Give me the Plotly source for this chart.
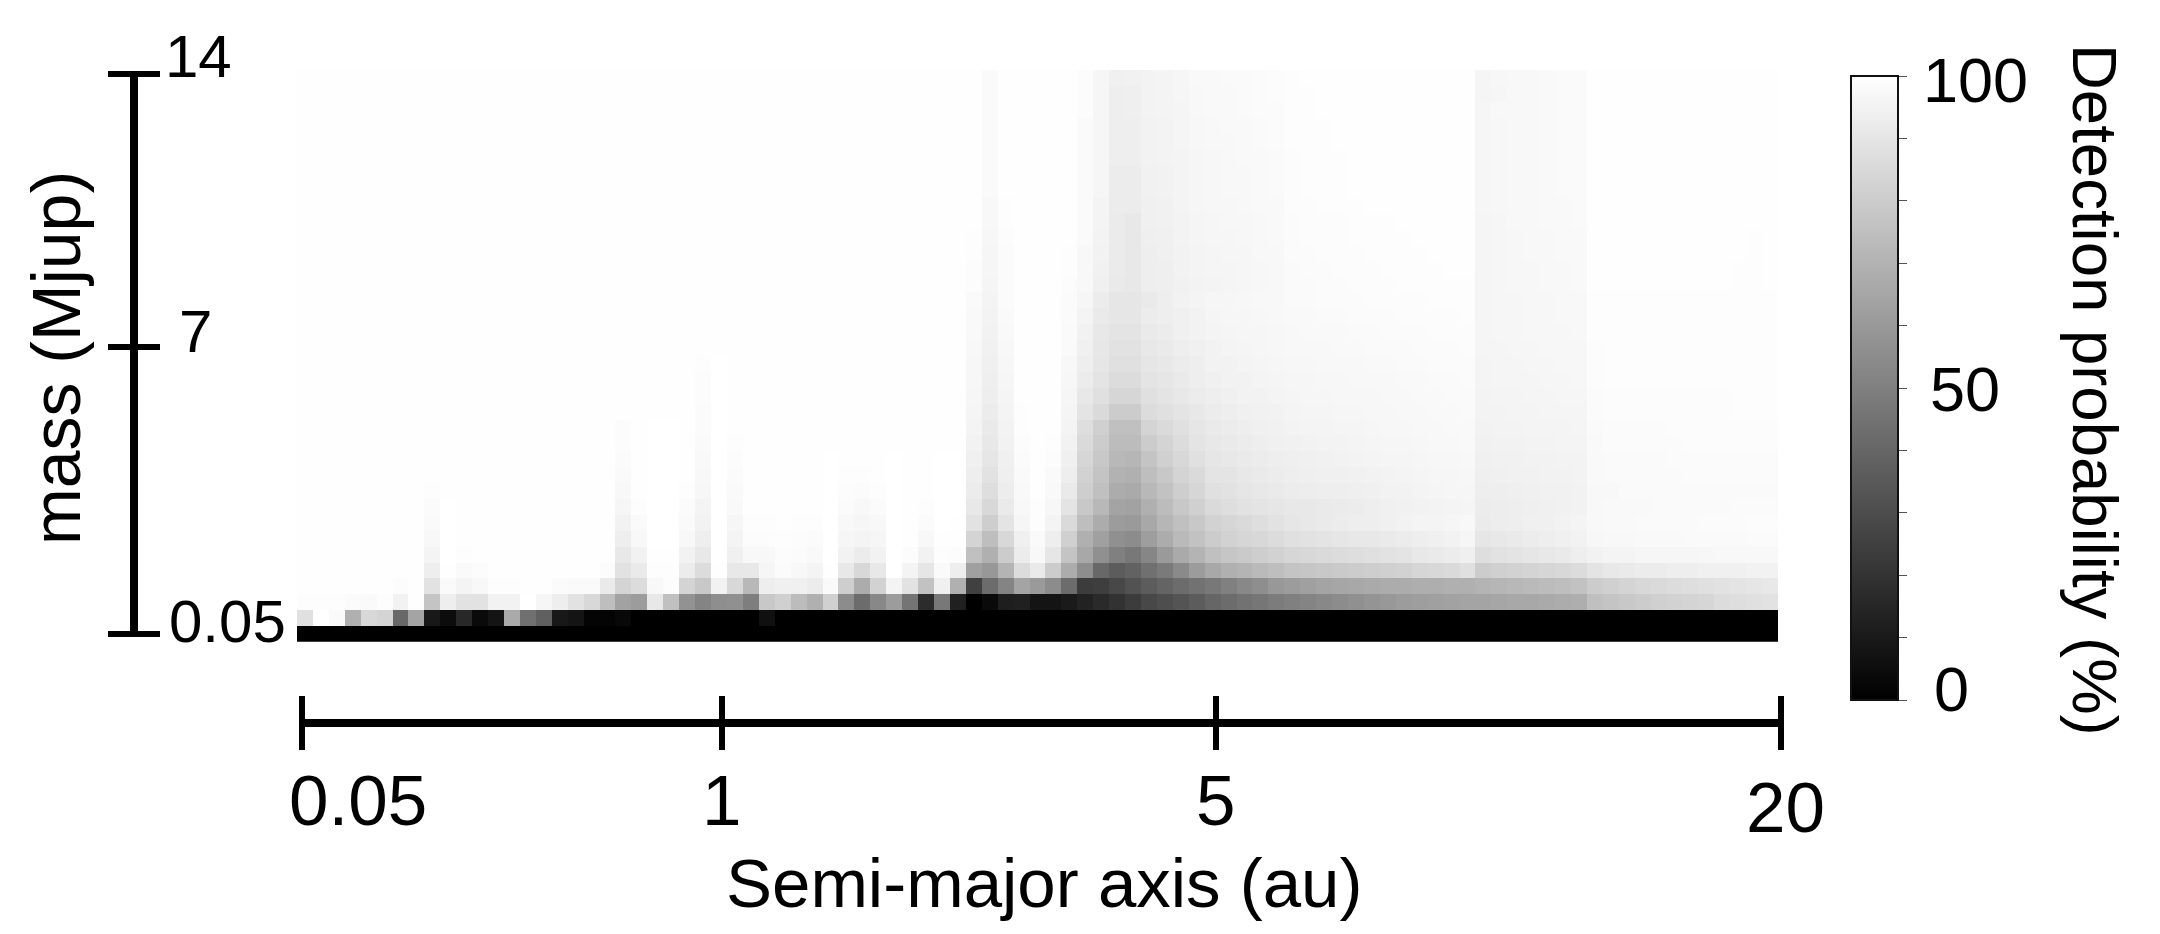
import plotly.graph_objects as go

W, H = 2160, 934

# Gray level of every heatmap cell (00 = black, FF = white).
# One named row per mass step, bottom row first. "FE*8" means eight cells reading FE.
# Segments: columns 0-29 | 30-41 | 42-61 | 62-73 | 74-80 | 81-92
ROW_00 = "00*93"
ROW_01 = "E0 FF FA B0 D8 D4 68 A4 18 0C 28 0A 14 AA 70 60 18 14 04 04 08 00*8 10 | 00*63"
ROW_02 = "FD FD FD FB FA FD F2 FE C4 EE E2 E2 F2 F2 FF F6 EE E2 D8 BE A2 9C E8 C0 92 84 8E 90 7E C8 | D0 BC B0 D0 8C 6C 88 9C 74 2C 78 20 | 00 0A 1E 20 14 14 1A 22 2A 32 3C 48 4E 54 5C 66 6C 72 76 7C | 80 84 88 8C 90 94 98 9C 9E A0 A2 A4 | A4 A6 A8 A8 AA AC AE | C0 C4 C8 CC D0 D2 D4 D6 DC DE E0 E2"
ROW_03 = "FE*6 FC FE E2 FA F4 F8 FD FD FE FE FB FA FA EA D4 DC F8 FC D4 C8 F2 D8 B8 EE | F0 F0 EC FA CE AC D2 F4 E2 C2 F0 B0 | 40 6C 84 A4 9A 8C 6C 3C 3E 48 52 5C 64 6C 72 78 80 88 8E 98 | 9C A0 A4 A6 A8 AA AC AC AE AE B0 B0 | B4 B6 B8 BA BC BE C2 | CC D0 D4 D8 DA DC DE E0 E2 E4 E6 E8"
ROW_04 = "FE*8 EE FE FA FC FE*7 FC E2 EA FD FD EC DC FE E8 E8 F6 | FB F8 F4 FE E8 D8 E8 FF F4 E6 FA EE | A0 98 B4 DC EA CC AC 8E 68 5C 62 70 7A 8A 9C A8 B0 B4 BA BE | C4 C6 C8 CA CC CE D0 D2 D6 D8 DA E0 | CC D0 D2 D4 D6 D8 DC | E4 E8 EA EC EC EE EE F0 F0 F0 F2 F2"
ROW_05 = "FE*8 F4 FF FD FE FE*8 E8 F2 FE FE F2 E8 FF F0 F8 F8 | FC FB F9 FF F2 EC F2 FF FC F2 FD FC | C0 B0 CC EC F8 E6 C4 A8 90 80 78 86 9A AA B4 C0 C6 CA CE D2 | D6 D8 DA DC DE E0 E2 E4 E8 EA EC F0 | DE E2 E4 E6 E8 EA EE | F2 F4 F4 F6 F6 F6 F6 F7 F8 F8 F8 F8"
ROW_06 = "FE*8 F8 FF FE FE FE*8 EE F8 FF FF F8 EE FF F4 FC FC | FD FC FB FF F6 F4 F6 FF FE F8 FE FE | D4 BE D8 F0 FA EE D0 B0 A0 90 8C 9E AC BA C2 CC D2 D6 D8 DC | E0 E2 E4 E6 E8 E8 EA EC EE F0 F2 F6 | E6 E8 EA EC EE F0 F2 | F7 F8 F8 F9 F9 F9 FA FA FA FA FB FB"
ROW_07 = "FE*8 FA FF FE FE FE*8 F2 FA FF FF FA F2 FF F6 FD FD | FE FD FD FF F8 F6 F8 FF FE FB FF FE | E2 CE E4 F6 FD F4 DA BE AC 9C 9A A8 B6 C0 C8 D2 D6 DA DE E2 | E6 E8 EA EC EE EE F0 F2 F4 F4 F6 F8 | EB ED EE F0 F0 F2 F4 | F8 F9 F9 FA FA FA FA FB FB FB FC FC"
ROW_08 = "FE*8 FB FF FE*10 F6 FD FF FF FB F4 FF F9 FE FE | FE FE FE FF FB F8 FB FF FE FD FF FF | E8 D8 EA F8 FD F7 E4 C8 B8 A4 A2 B0 BC C8 D0 DA DE E2 E4 E6 | E8 E8 EA EB EC EE F0 F1 F2 F3 F4 F5 | EC ED EE EF F0 F1 F2 | F8 F9 F9 F9 FA FA FA FA FA FB FB FB"
ROW_09 = "FE*8 FD FE*11 F8 FE FF FF FD F7 FF FA FE FE | FE FE FE FF FC FB FD FF FE FE FF FF | EC DE ED F9 FE F9 EA CE C0 AC AA B8 C2 CE D6 E0 E2 E6 E8 EA | EC ED EE EE EF F0 F2 F2 F4 F5 F6 F6 | EE EE EF F0 F1 F1 F2 | F8 F8 FA*10"
ROW_10 = "FE*20 FA FE FF FF FE F8 FF FB FE FE | FE FE FE FF FD FD FE FF FE FE FF FF | EE E2 EF FA FE FA EE D2 C4 B2 B0 BE C8 D4 DA E4 E4 E8 EA EC | EE EF F0 F0 F1 F2 F3 F4 F5 F6 F6 F7 | EF F0 F1 F1 F2 F2 F3 | F9 FA FA FA FA FA FB*6"
ROW_11 = "FE*20 FB FE FF FF FE F9 FF FC FE FE | FE FE FE FF FE FE FE FF FE FE FF FF | F0 E6 F0 FB FE FC F0 D6 C8 B8 B6 C4 D0 D8 E0 E6 E8 EA EC EE | EF F0 F1 F2 F3 F4 F5 F5 F6 F7 F7 F8 | F0 F1 F1 F2 F2 F3 F3 | F9 FA FA FA FA FB*7"
ROW_12 = "FE*20 FC FE FF FF FE FA FF FD FE FE | FE*12 | F2 E8 F2 FC FE FD F2 DA CC BC BC CC D4 DC E4 E8 EA EC EE F0 | F1 F2 F3 F3 F4 F5 F6 F6 F7 F8 F8 F9 | F1 F2 F2 F3 F3 F4 F4 | F9 FB*5 FC*6"
ROW_13 = "FE*20 FC FE FF FF FE FB FF FE FE FE | FE*12 | F4 EA F3 FD FE FE F4 DE D0 C0 C0 D4 DA E0 E6 EA EC EE F0 F1 | F3 F4 F4 F5 F5 F6 F7 F7 F8 F8 F9 F9 | F2 F3 F3 F4 F4 F4 F5 | FA FB*4 FC*7"
ROW_14 = "FE*25 FB FF FE*3 | FE*12 | F5 EC F4 FD FE FE F5 E4 DA CC CC DC E0 E4 E8 EC EE F0 F1 F2 | F4 F5 F5 F6 F6 F7 F7 F8 F8 F9 F9 FA | F3 F3 F4 F4 F5 F5 F5 | FB FC*8 FD*3"
ROW_15 = "FE*25 FC FF FE*3 | FE*12 | F6 EE F5 FE FE FE F6 E8 E0 D6 D6 E0 E4 E8 EC EE F0 F2 F2 F4 | F5 F6 F6 F7 F7 F7 F8 F8 F9 F9 FA FA | F3 F4 F4 F5 F5 F6 F6 | FB FC*8 FD*3"
ROW_16 = "FE*25 FC FF FE*3 | FE*12 | F7 EF F6 FE FE FE F7 EC E4 DC DC E4 E6 EA EE F0 F2 F2 F4 F5 | F6 F6 F7 F7 F8 F8 F8 F9 F9 FA FA FB | F4 F5 F5 F5 F6 F6 F7 | FC FD*11"
ROW_17 = "FE*25 FD FF FE*3 | FE*12 | F7 F0 F7 FE FE FE F8 EE E6 E0 E0 E6 E8 EC EE F2 F2 F4 F5 F6 | F7 F7 F8 F8 F8 F9 F9 FA FA FB FB FB | F4 F5 F5 F6 F6 F7 F7 | FC FD*11"
ROW_18 = "FE*30 | FE*12 | F8 F1 F8 FE FE FE FA F0 E7 E2 E2 E8 EA EE F0 F2 F4 F5 F6 F7 | F8 F8 F8 F9 F9 FA FA FA FB FB FB FC | F5 F5 F6 F6 F7 F7 F7 | FC FD*11"
ROW_19 = "FE*30 | FE*12 | F9 F2 F9 FE FE FE FA F2 E8 E4 E4 EA EC F0 F2 F4 F5 F6 F6 F7 | F8 F9 F9 F9 FA FA FB FB FB FC FC FC | F5 F6 F6 F7 F7 F7 F8 | FD*12"
ROW_20 = "FE*30 | FE*12 | F9 F3 FA FE FE FE FB F4 EA E6 E6 EC EE F0 F2 F5 F6 F6 F7 F8 | F9 F9 FA FA FB FB FB FC FC FC FC FD | F5 F6 F6 F7 F7 F8 F8 | FD*12"
ROW_21 = "FE*30 | FE*12 | FA F4 FB FE FE FE FB F6 EC E6 E6 EA EE F2 F4 F6 F6 F7 F8 F8 | FA FA FB FB FB FC FC FC FC FD FD FD | F5 F6 F6 F7 F7 F8 F8 | FD*12"
ROW_22 = "FE*30 | FE*12 | FC F5 FB FE FE FE FC F8 F0 EA E8 EE EF F1 F3 F4 F5 F6 F7 F8 | FA FA FB FB FC FC FC FD FD FD FD FD | F5 F6 F7 F7 F8 F8 F9 | FE*9 FD FD FE"
ROW_23 = "FE*30 | FE*12 | FC F6 FB FE FE FE FD F8 F1 EB E8 EE EF F2 F4 F5 F5 F6 F7 F8 | FA FB FB FC FC FC FD FD FD FD FE FE | F5 F6 F7 F7 F8 F8 F9 | FE*9 FD FD FE"
ROW_24 = "FE*30 | FE*12 | FD F6 FB FE FE FE FD F8 F2 EB E8 EE F0 F2 F4 F5 F6 F6 F8 F8 | FB FB FC FC FC FD FD FD FD FE FE FE | F5 F6 F7 F8 F8 F9 F9 | FE*10 FD FE"
ROW_25 = "FE*30 | FE*12 | FD F7 FC FE FE FE FE FA F3 EB E8 EF F0 F3 F5 F6 F6 F7 F8 F9 | FB FC FC FC FD FD FD FD FE FE FE FE | F5 F6 F7 F8 F8 F9 F9 | FE*10 FD FE"
ROW_26 = "FE*30 | FE*12 | FE F8 FD FE FE FE FE FA F4 EB E8 F0 F1 F3 F5 F6 F7 F7 F8 F9 | FB FC FC FC FD FD FD FE FE FE FE FE | F5 F6 F8 F8 F9 F9 FA | FE*12"
ROW_27 = "FE*30 | FE*12 | FE F8 FD FE FE FE FE FA F4 EC EC F0 F1 F4 F6 F7 F7 F8 F9 F9 | FC FC FD FD FD FE*7 | F6 F7 F8 F8 F9 F9 FA | FE*12"
ROW_28 = "FE*30 | FE*12 | FE FA FE FE FE FE FE FA F6 EC EC F1 F2 F4 F6 F7 F8 F8 F9 FA | FC FD FD FD FE*8 | F6 F7 F8 F8 F9 FA FA | FE*12"
ROW_29 = "FE*30 | FE*12 | FE FA FE*5 FA F6 EC EC F1 F2 F4 F6 F7 F8 F8 F9 FA | FC FD FD FD FE*8 | F6 F7 F8 F8 F9 FA FA | FE*12"
ROW_30 = "FE*30 | FE*12 | FE FA FE*5 FA F6 EE EE F2 F3 F4 F6 F7 F8 F9 F9 FA | FC FD FD FD FE*8 | F6 F7 F8 F8 F9 FA FA | FE*12"
ROW_31 = "FE*30 | FE*12 | FE FA FE*5 FA F6 EE EE F2 F3 F5 F7 F8 F8 F9 FA FB | FD FD FD FE*9 | F6 F7 F8 F8 F9 FA FA | FE*12"
ROW_32 = "FE*30 | FE*12 | FE FA FE*5 FA F6 EE EE F2 F3 F5 F7 F8 F9 F9 FA FB | FD FD FD FE*9 | F6 F7 F8 F8 F9 FA FA | FE*12"
ROW_33 = "FE*30 | FE*12 | FE FA FE*5 FC F6 EE EF F3 F4 F5 F8 F9 F9 FA FB FB | FD FD FE*10 | F6 F8 F8 F8 F9 FA FA | FE*12"
ROW_34 = "FE*30 | FE*12 | FE FA FE*5 FC F6 EE EF F3 F4 F6 F8 F9 F9 FA FB FC | FD FD FE*10 | F5 F6 F8 F8 F9 FA FA | FE*12"
ROW_35 = "FE*30 | FE*12 | FE FA FE*5 FC F6 F0 F1 F3 F4 F6 F9 F9 FA FA FB FC | FD FE*11 | F5 F7 F8 F8 F9 FA FA | FE*12"

ROWS = [ROW_00, ROW_01, ROW_02, ROW_03, ROW_04, ROW_05, ROW_06, ROW_07, ROW_08,
        ROW_09, ROW_10, ROW_11, ROW_12, ROW_13, ROW_14, ROW_15, ROW_16, ROW_17,
        ROW_18, ROW_19, ROW_20, ROW_21, ROW_22, ROW_23, ROW_24, ROW_25, ROW_26,
        ROW_27, ROW_28, ROW_29, ROW_30, ROW_31, ROW_32, ROW_33, ROW_34, ROW_35]

X_TICK_LABELS = ["0.05", "1", "5", "20"]
X_TICK_POS = [0.0, 0.2840, 0.6178, 1.0]
Y_TICK_LABELS = ["0.05", "7", "14"]
Y_TICK_POS = [0.0, 0.5125, 1.0]
CB_TICKS = [0, 10, 20, 30, 40, 50, 60, 70, 80, 90, 100]
CB_TICK_LABELS = ["0", "50", "100"]

FONT = "Liberation Sans, Helvetica, Arial, sans-serif"


def parse(row):
    cells = []
    for tok in row.replace("|", " ").split():
        if "*" in tok:
            v, n = tok.split("*")
            cells += [int(v, 16)] * int(n)
        else:
            cells.append(int(tok, 16))
    if len(cells) != 93:
        raise ValueError(f"row has {len(cells)} cells: {row[:40]}")
    return [round(c / 255 * 100, 2) for c in cells]


Z = [parse(r) for r in ROWS]


def px(x):
    return x / W


def py(y):
    return (H - y) / H


fig = go.Figure()
fig.add_trace(go.Heatmap(
    z=Z, x=list(range(93)), y=list(range(36)), xaxis="x", yaxis="y",
    zmin=0, zmax=100, zsmooth=False, hoverinfo="skip",
    colorscale=[[0, "#000000"], [1, "#ffffff"]],
    colorbar=dict(
        x=px(1851), xanchor="left", xpad=0, thickness=47, thicknessmode="pixels",
        y=py(388), yanchor="middle", ypad=0, lenmode="pixels", len=624,
        outlinewidth=2, outlinecolor="#111111",
        tickmode="array", tickvals=CB_TICKS, ticktext=[""] * len(CB_TICKS),
        ticks="outside", ticklen=8, tickwidth=1, tickcolor="#555555",
    ),
))
# carriers for the two free-standing scale bars
fig.add_trace(go.Scatter(x=[], y=[], xaxis="x2", yaxis="y2", showlegend=False, hoverinfo="skip"))
fig.add_trace(go.Scatter(x=[], y=[], xaxis="x3", yaxis="y3", showlegend=False, hoverinfo="skip"))

hidden = dict(visible=False, showgrid=False, zeroline=False)
bar_x = dict(domain=[px(299), px(1784)], range=[-3 / 1479, 1 + 3 / 1479], anchor="free", position=py(723),
             showline=True, linewidth=8, linecolor="#000", showgrid=False, zeroline=False,
             tickmode="array", tickvals=X_TICK_POS, ticks="outside", ticklen=23,
             tickwidth=6, tickcolor="#000", showticklabels=False)
bar_y = dict(domain=[py(637), py(71)], range=[-3 / 560, 1 + 3 / 560], anchor="free", position=px(133.5),
             showline=True, linewidth=8, linecolor="#000", showgrid=False, zeroline=False,
             tickmode="array", tickvals=Y_TICK_POS, ticks="outside", ticklen=22,
             tickwidth=6, tickcolor="#000", showticklabels=False)

fig.update_layout(
    width=W, height=H, autosize=False,
    margin=dict(l=0, r=0, t=0, b=0),
    paper_bgcolor="#fff", plot_bgcolor="rgba(0,0,0,0)",
    font=dict(family=FONT, color="#000"),
    showlegend=False,
    xaxis=dict(domain=[px(297), px(1778)], range=[-0.5, 92.5], anchor="y", **hidden),
    yaxis=dict(domain=[py(641.7), py(70)], range=[-0.5, 35.5], anchor="x", **hidden),
    xaxis2=dict(**bar_x, side="bottom"),
    yaxis2=dict(**bar_y, side="left"),
    xaxis3=dict(**bar_x, side="top"),
    yaxis3=dict(**bar_y, side="right"),
)

ann = []
X_LABEL_PX = [358, 722, 1216, 1785]
X_LABEL_PY = [800, 800, 800, 807]
for t, xp, yp in zip(X_TICK_LABELS, X_LABEL_PX, X_LABEL_PY):
    ann.append(dict(text=t, x=px(xp), y=py(yp), font=dict(size=71)))
Y_LABEL_PX = [227, 195, 198]
Y_LABEL_PY = [622, 331, 56]
for t, xp, yp in zip(Y_TICK_LABELS, Y_LABEL_PX, Y_LABEL_PY):
    ann.append(dict(text=t, x=px(xp), y=py(yp), font=dict(size=60)))
CB_LABEL_PX = [1951, 1965, 1975]
CB_LABEL_PY = [689, 389, 80]
for t, xp, yp in zip(CB_TICK_LABELS, CB_LABEL_PX, CB_LABEL_PY):
    ann.append(dict(text=t, x=px(xp), y=py(yp), font=dict(size=63)))
ann.append(dict(text="Detection probability (%)", x=px(2095), y=py(390),
                textangle=90, font=dict(size=63.5)))
ann.append(dict(text="Semi-major axis (au)", x=px(1044), y=py(883), font=dict(size=69)))
ann.append(dict(text="mass (Mjup)", x=px(56), y=py(358), textangle=-90, font=dict(size=68)))
for a in ann:
    a.update(xref="paper", yref="paper", xanchor="center", yanchor="middle", showarrow=False)
fig.update_layout(annotations=ann)

fig.write_html("out.html", config=dict(displayModeBar=False, staticPlot=True),
               post_script="document.body.style.margin='0';document.body.style.overflow='hidden';")
